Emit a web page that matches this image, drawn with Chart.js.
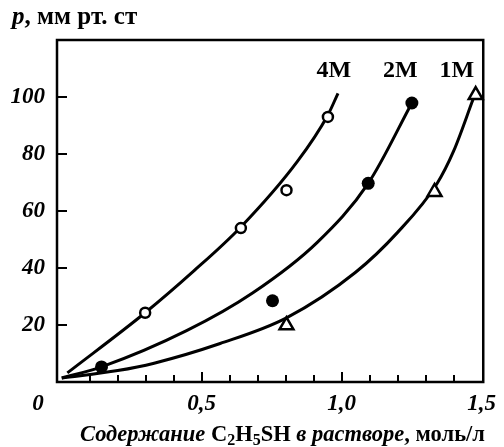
<!DOCTYPE html>
<html>
<head>
<meta charset="utf-8">
<script src="https://cdn.jsdelivr.net/npm/chart.js@4"></script>
<style>
  body { margin: 0; background: #fff; }
  #wrap { position: relative; width: 504px; height: 447px; }
  #myCanvas { position: absolute; left: 0; top: 0; }
  .lbl { position: absolute; font-family: "Liberation Serif", serif; font-weight: bold; color: #000; white-space: nowrap; line-height: 1; }
  #yTitle { left: 12px; top: 3px; font-size: 25px; }
  #xTitle { left: 80px; top: 423px; font-size: 22.5px; }
  #xTitle sub { font-size: 16px; vertical-align: -4px; line-height: 0; }
</style>
</head>
<body>
<div id="wrap">
  <canvas id="myCanvas" width="504" height="447"></canvas>
  <div class="lbl" id="yTitle"><i>p</i>, мм рт. ст</div>
  <div class="lbl" id="xTitle"><i>Содержание</i> C<sub>2</sub>H<sub>5</sub>SH <i>в растворе</i>, моль/л</div>
</div>
<script>
// measured points (x = моль/л, y = мм рт. ст)
const x4M = [0.298, 0.64, 0.803, 0.951];
const y4M = [24.3, 54, 67.3, 93];
const x2M = [0.142, 0.753, 1.095, 1.251];
const y2M = [5.3, 28.5, 69.7, 97.9];
const x1M = [0.803, 1.332, 1.479];
const y1M = [19.9, 66.7, 100.7];

// fitted curves
const cx4M = [0.02, 0.298, 0.47, 0.64, 0.842, 0.951, 0.987];
const cy4M = [3.2, 24.3, 38.8, 54.4, 77.4, 93.7, 101.3];
const cx2M = [0.0, 0.142, 0.446, 0.683, 0.913, 1.095, 1.251];
const cy2M = [1.4, 5.3, 18, 31.3, 49, 69.7, 97.9];
const cx1M = [0.0, 0.2, 0.33, 0.566, 0.803, 1.05, 1.2, 1.34, 1.4, 1.47];
const cy1M = [1.4, 4, 6.6, 13.5, 22.5, 38.5, 52.5, 69.5, 81, 99.3];

const curveNames = ["4M", "2M", "1M"];
const curveNameX = [0.972, 1.21, 1.412];
const curveNameY = [107, 107, 107];

const xLabelTicks = [0.5, 1.0, 1.5];
const xMinorTicks = [0.1, 0.2, 0.3, 0.4, 0.5, 0.6, 0.7, 0.8, 0.9, 1.0, 1.1, 1.2, 1.3, 1.4];
const yLabelTicks = [20, 40, 60, 80, 100];

const pts = (xs, ys) => xs.map((v, i) => ({ x: v, y: ys[i] }));
const FONT = "Liberation Serif";

const curve = (xs, ys) => ({
  data: pts(xs, ys),
  showLine: true,
  borderColor: "#000",
  borderWidth: 3,
  pointRadius: 0,
  cubicInterpolationMode: "monotone",
  order: 2,
  clip: false
});

// frame, inward ticks, origin label and curve names
const framePlugin = {
  id: "frame",
  beforeDatasetsDraw(chart) {
    const { ctx, chartArea: a, scales: { x, y } } = chart;
    ctx.save();
    ctx.strokeStyle = "#000";
    ctx.lineWidth = 2.5;
    ctx.strokeRect(a.left, a.top, a.right - a.left, a.bottom - a.top);
    ctx.lineWidth = 2;
    ctx.beginPath();
    xMinorTicks.forEach(v => {
      const px = Math.round(x.getPixelForValue(v));
      const len = (v === 0.5 || v === 1.0) ? 10 : 7;
      ctx.moveTo(px, a.bottom);
      ctx.lineTo(px, a.bottom - len);
    });
    yLabelTicks.forEach(v => {
      const py = Math.round(y.getPixelForValue(v));
      ctx.moveTo(a.left, py);
      ctx.lineTo(a.left + 10, py);
    });
    ctx.stroke();
    ctx.fillStyle = "#000";
    ctx.font = "italic bold 23px '" + FONT + "'";
    ctx.textAlign = "center";
    ctx.textBaseline = "alphabetic";
    ctx.fillText("0", 38, 410);
    ctx.font = "bold 24px '" + FONT + "'";
    curveNames.forEach((n, i) => {
      ctx.fillText(n, x.getPixelForValue(curveNameX[i]), y.getPixelForValue(curveNameY[i]));
    });
    ctx.restore();
  }
};

const ctx = document.getElementById("myCanvas").getContext("2d");

const myChart = new Chart(ctx, {
  type: "scatter",
  data: {
    datasets: [
      {
        data: pts(x4M, y4M),
        pointStyle: "circle",
        pointRadius: 5,
        pointBackgroundColor: "#fff",
        pointBorderColor: "#000",
        pointBorderWidth: 2.5,
        order: 0,
        clip: false
      },
      {
        data: pts(x2M, y2M),
        pointStyle: "circle",
        pointRadius: 6.5,
        pointBackgroundColor: "#000",
        pointBorderColor: "#000",
        pointBorderWidth: 0,
        order: 0,
        clip: false
      },
      {
        data: pts(x1M, y1M),
        pointStyle: "triangle",
        pointRadius: 8,
        pointBackgroundColor: "#fff",
        pointBorderColor: "#000",
        pointBorderWidth: 2.5,
        order: 0,
        clip: false
      },
      curve(cx4M, cy4M),
      curve(cx2M, cy2M),
      curve(cx1M, cy1M)
    ]
  },
  options: {
    responsive: false,
    animation: false,
    devicePixelRatio: 1,
    layout: { padding: { top: 40, right: 16, left: 0, bottom: 0 } },
    plugins: { legend: { display: false }, tooltip: { enabled: false } },
    scales: {
      x: {
        type: "linear",
        min: -0.017,
        max: 1.506,
        grid: { display: false, drawTicks: false },
        border: { display: false },
        afterBuildTicks: s => { s.ticks = xLabelTicks.map(v => ({ value: v })); },
        afterFit: s => { s.height = 65; },
        ticks: {
          padding: 8,
          color: "#000",
          maxRotation: 0,
          font: { family: FONT, size: 23, style: "italic", weight: "bold" },
          callback: v => v.toFixed(1).replace(".", ",")
        }
      },
      y: {
        type: "linear",
        min: 0,
        max: 120,
        grid: { display: false, drawTicks: false },
        border: { display: false },
        afterBuildTicks: s => { s.ticks = yLabelTicks.map(v => ({ value: v })); },
        afterFit: s => { s.width = 57; },
        ticks: {
          padding: 12,
          color: "#000",
          font: { family: FONT, size: 23, style: "italic", weight: "bold" },
          callback: v => String(v)
        }
      }
    }
  },
  plugins: [framePlugin]
});
</script>
</body>
</html>
